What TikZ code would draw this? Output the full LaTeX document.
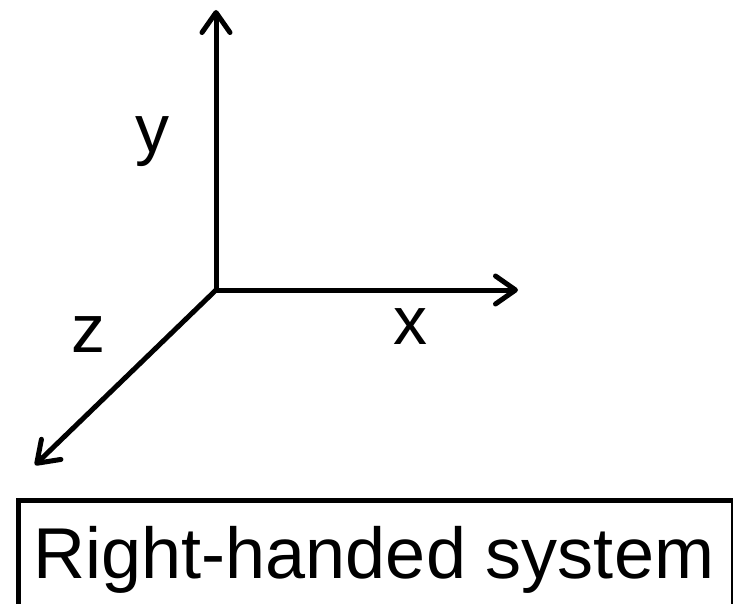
\documentclass[tikz,border=0pt]{standalone}
\usepackage{fontspec}
\setmainfont{Liberation Sans}
\usepackage{tikz}
\usetikzlibrary{
	positioning,
	calc,
	arrows.meta
}

\begin{document}
\begin{tikzpicture}[
	x=1pt,y=-1pt,
	axis/.style={
		-{Straight Barb[length=20pt,width=28pt,line cap=round,line join=round]},
		line width=5pt,
		line cap=round
	},
	axislabel/.style={
		anchor=base,
		inner sep=0pt,
		font=\fontsize{68}{80}\selectfont
	},
	frameline/.style={
		draw=black,
		line width=5pt
	}
	]
	
	\useasboundingbox (0,0) rectangle (733,604);
	\clip (0,0) rectangle (733,604);
	
	\coordinate (O) at (216,290);
	\coordinate (XE) at (518,290);
	\coordinate (YE) at (216,10);
	\coordinate (ZE) at (35,465);
	
	\draw[axis] (O) -- (YE);
	\draw[axis] (O) -- (XE);
	\draw[axis] (O) -- (ZE);
	
	\node[axislabel] (ylab) at (152,153) {y};
	\node[axislabel] (xlab) at (410,344) {x};
	\node[axislabel] (zlab) at (88,352) {z};
	
	\draw[frameline] (18.5,500.5) rectangle (733,660);
	
	\node[
	anchor=base,
	inner sep=0pt,
	font=\fontsize{72}{86}\selectfont
	]
	(caption) at (374,578)
	{Right-handed system};
	
\end{tikzpicture}
\end{document}
